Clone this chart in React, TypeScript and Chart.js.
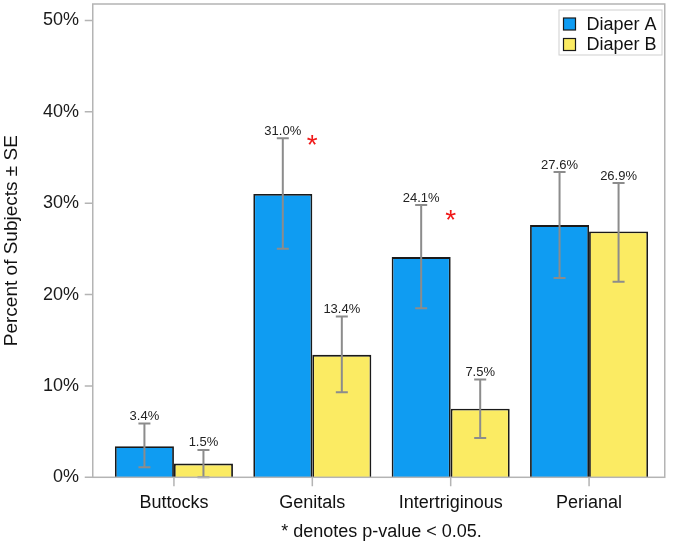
import React, { useEffect, useRef } from 'react';
import { Chart, registerables } from 'chart.js';

Chart.register(...registerables);

// data
const categories = ['Buttocks', 'Genitals', 'Intertriginous', 'Perianal'];
const seriesNames = ['Diaper A', 'Diaper B'];
const diaperA = [3.4, 31.0, 24.1, 27.6];
const diaperB = [1.5, 13.4, 7.5, 26.9];
const diaperAHigh = [5.9, 37.1, 29.8, 33.4];
const diaperALow = [1.1, 25.0, 18.5, 21.8];
const diaperBHigh = [3.0, 17.6, 10.7, 32.2];
const diaperBLow = [0.0, 9.3, 4.3, 21.4];
// y position (in %) of the red significance asterisk per category
const sigMarks: (number | null)[] = [null, 37.1, 28.9, null];
const yTicks = [0, 10, 20, 30, 40, 50];

const FONT = '"Liberation Sans", Arial, sans-serif';
const BLUE = '#0f9cf2';
const YELLOW = '#fbeb63';
const FRAME = '#b4b4b4';
const ERR = '#8c8c8c';

const App: React.FC = () => {
  const canvasRef = useRef<HTMLCanvasElement>(null);

  useEffect(() => {
    document.body.style.margin = '0';
    if (!canvasRef.current) return;

    const errors = [
      { high: diaperAHigh, low: diaperALow, values: diaperA },
      { high: diaperBHigh, low: diaperBLow, values: diaperB },
    ];

    // frame, tick marks, error bars, value labels, asterisks and legend
    const decorations = {
      id: 'decorations',
      afterDatasetsDraw(chart: any) {
        const { ctx, chartArea } = chart;
        const y = chart.scales.y;
        const x = chart.scales.x;
        const fl = chartArea.left - 12;
        const fr = chartArea.right + 6.5;
        const ft = chartArea.top;
        const fb = chartArea.bottom;
        ctx.save();

        // error bars + value labels
        errors.forEach((e, di) => {
          const meta = chart.getDatasetMeta(di);
          meta.data.forEach((bar: any, j: number) => {
            const yh = y.getPixelForValue(e.high[j]);
            const yl = y.getPixelForValue(e.low[j]);
            ctx.strokeStyle = ERR;
            ctx.lineWidth = 2;
            ctx.beginPath();
            ctx.moveTo(bar.x, yh);
            ctx.lineTo(bar.x, yl);
            ctx.moveTo(bar.x - 6, yh);
            ctx.lineTo(bar.x + 6, yh);
            ctx.moveTo(bar.x - 6, yl);
            ctx.lineTo(bar.x + 6, yl);
            ctx.stroke();
            ctx.fillStyle = '#222222';
            ctx.font = `13px ${FONT}`;
            ctx.textAlign = 'center';
            ctx.textBaseline = 'alphabetic';
            ctx.fillText(e.values[j].toFixed(1) + '%', bar.x, yh - 3.5);
          });
        });

        // significance asterisks
        sigMarks.forEach((v, j) => {
          if (v === null) return;
          ctx.fillStyle = '#f01818';
          ctx.font = `28px ${FONT}`;
          ctx.textAlign = 'center';
          ctx.textBaseline = 'alphabetic';
          ctx.fillText('*', x.getPixelForValue(j), y.getPixelForValue(v) + 16);
        });

        // frame
        ctx.strokeStyle = FRAME;
        ctx.lineWidth = 1.5;
        ctx.strokeRect(fl, ft, fr - fl, fb - ft);
        ctx.beginPath();
        yTicks.forEach((t) => {
          const py = y.getPixelForValue(t);
          ctx.moveTo(fl - 8, py);
          ctx.lineTo(fl, py);
        });
        categories.forEach((_, j) => {
          const px = x.getPixelForValue(j);
          ctx.moveTo(px, fb);
          ctx.lineTo(px, fb + 9);
        });
        ctx.stroke();

        // legend
        const lx = 559;
        const ly = 10;
        ctx.fillStyle = '#ffffff';
        ctx.fillRect(lx, ly, 103, 45);
        ctx.strokeStyle = '#cfcfcf';
        ctx.lineWidth = 1;
        ctx.strokeRect(lx, ly, 103, 45);
        chart.data.datasets.forEach((ds: any, i: number) => {
          const cy = 24 + i * 20.5;
          ctx.fillStyle = ds.backgroundColor;
          ctx.fillRect(lx + 4.5, cy - 6, 12, 12);
          ctx.strokeStyle = '#1a1a1a';
          ctx.lineWidth = 1.2;
          ctx.strokeRect(lx + 4.5, cy - 6, 12, 12);
          ctx.fillStyle = '#111111';
          ctx.font = `18px ${FONT}`;
          ctx.textAlign = 'left';
          ctx.textBaseline = 'middle';
          ctx.fillText(ds.label, lx + 27.5, cy + 1);
        });
        ctx.restore();
      },
    };

    const chart = new Chart(canvasRef.current, {
      type: 'bar',
      data: {
        labels: categories,
        datasets: [
          {
            label: seriesNames[0],
            data: diaperA,
            backgroundColor: BLUE,
            borderColor: '#1a1a1a',
            borderWidth: 1.8,
            barPercentage: 1,
            categoryPercentage: 0.853,
          },
          {
            label: seriesNames[1],
            data: diaperB,
            backgroundColor: YELLOW,
            borderColor: '#1a1a1a',
            borderWidth: 1.8,
            barPercentage: 1,
            categoryPercentage: 0.853,
          },
        ],
      },
      options: {
        responsive: false,
        animation: false,
        layout: { padding: { top: 4, right: 14.75, bottom: 0, left: 0 } },
        plugins: {
          legend: { display: false },
          tooltip: { enabled: false },
        },
        scales: {
          x: {
            grid: { display: false, drawTicks: false },
            border: { display: false },
            ticks: {
              padding: 14.6,
              color: '#111111',
              font: { family: FONT, size: 18 },
            },
            title: {
              display: true,
              text: '* denotes p-value < 0.05.',
              color: '#111111',
              font: { family: FONT, size: 18 },
              padding: { top: 0, bottom: 3.7 },
            },
            afterFit: (s: any) => {
              s.height = 69.7;
              s.paddingLeft = 0;
              s.paddingRight = 0;
            },
          },
          y: {
            min: 0,
            max: 51.8,
            grid: { display: false, drawTicks: false },
            border: { display: false },
            ticks: {
              stepSize: 10,
              includeBounds: false,
              padding: 25.75,
              color: '#1a1a1a',
              font: { family: FONT, size: 18 },
              callback: (v: any) => v + '%',
            },
            title: {
              display: true,
              text: 'Percent of Subjects ± SE',
              color: '#111111',
              font: { family: FONT, size: 19 },
              padding: { top: 0, bottom: 0 },
            },
            afterFit: (s: any) => {
              s.width = 104.75;
              s.paddingTop = 0;
              s.paddingBottom = 0;
            },
          },
        },
      },
      plugins: [decorations],
    });

    return () => {
      chart.destroy();
    };
  }, []);

  return (
    <div style={{ width: 673, height: 547, background: '#ffffff' }}>
      <canvas ref={canvasRef} width={673} height={547} />
    </div>
  );
};

export default App;
